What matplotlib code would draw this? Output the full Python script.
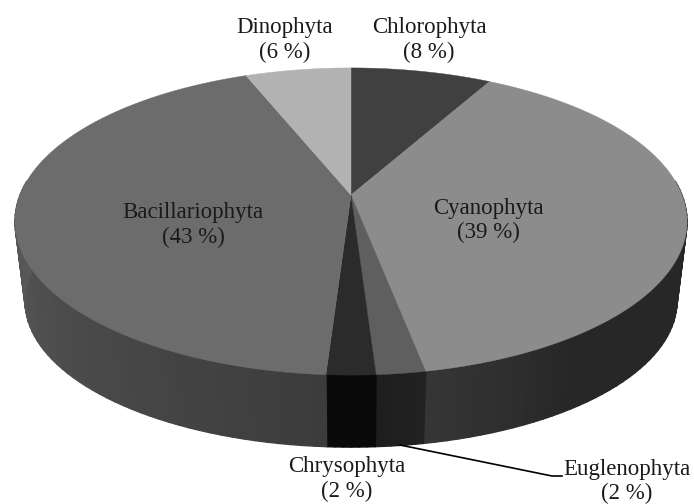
import matplotlib
matplotlib.use('Agg')
import matplotlib.pyplot as plt
from matplotlib.collections import PolyCollection
import numpy as np

# Phytoplankton share per group, clockwise from 12 o'clock
groups = ['Chlorophyta', 'Cyanophyta', 'Euglenophyta', 'Chrysophyta', 'Bacillariophyta', 'Dinophyta']
shares = [8, 39, 2, 2, 43, 6]
top_colors = ['#404040', '#8c8c8c', '#5f5f5f', '#2b2b2b', '#6c6c6c', '#b2b2b2']
# rim shading stops: clockwise degrees and grey level
rim_deg = [0, 145, 169.2, 169.2, 176.4, 176.4, 183.6, 183.6, 280, 338]
rim_grey = [0x25, 0x27, 0x36, 0x22, 0x1e, 0x0a, 0x0a, 0x3c, 0x5c, 0x70]

label_pos = {'Chlorophyta': (429, 40), 'Cyanophyta': (488, 220.5), 'Euglenophyta': (627, 481.5),
             'Chrysophyta': (347, 479), 'Bacillariophyta': (193, 225), 'Dinophyta': (285, 40)}

CX, CY = 351, 195
K = 0.1726


def project(theta, scale_x=1.0, scale_y=1.0, dy=0.0):
    # circle -> screen with a bit of perspective, theta clockwise from the back
    u, v = np.sin(theta), np.cos(theta)
    w = 1 + K * v
    return CX + 331 * scale_x * u / w, CY + dy - 149 * scale_y * v / w


fig = plt.figure(figsize=(6.94, 5.04), dpi=100)
ax = fig.add_axes([0, 0, 1, 1])
ax.set_xlim(0, 694)
ax.set_ylim(504, 0)
ax.axis('off')

edges = np.radians(np.cumsum([0] + shares) * 3.6)

# rim first, top face goes over it
for i in range(len(shares)):
    th = np.linspace(edges[i], edges[i + 1], max(shares[i] * 2, 6) + 1)
    xt, yt = project(th)
    xb, yb = project(th, 0.97, 0.95, 81)
    quads = []
    colors = []
    for j in range(len(th) - 1):
        mid = (th[j] + th[j + 1]) / 2
        if np.cos(mid) > 0.1:
            continue
        quads.append([(xt[j], yt[j]), (xt[j + 1], yt[j + 1]), (xb[j + 1], yb[j + 1]), (xb[j], yb[j])])
        g = np.interp(np.degrees(mid), rim_deg, rim_grey) / 255
        colors.append((g, g, g))
    ax.add_collection(PolyCollection(quads, facecolors=colors, edgecolors=colors, linewidths=1.0))

for i in range(len(shares)):
    th = np.linspace(edges[i], edges[i + 1], max(shares[i] * 4, 8) + 1)
    xt, yt = project(th)
    ax.fill(np.r_[CX, xt], np.r_[CY, yt], color=top_colors[i], lw=0.3)

# leader line for Euglenophyta
ax.plot([400, 552, 562], [445, 476, 476], color='black', lw=1.2)

for name, share in zip(groups, shares):
    x, y = label_pos[name]
    ax.text(x, y, '%s\n(%d %%)' % (name, share), ha='center', va='center', fontsize=16.5,
            family='Liberation Serif', color='#1a1a1a', linespacing=1.22)

fig.savefig('out.png', dpi=100)
